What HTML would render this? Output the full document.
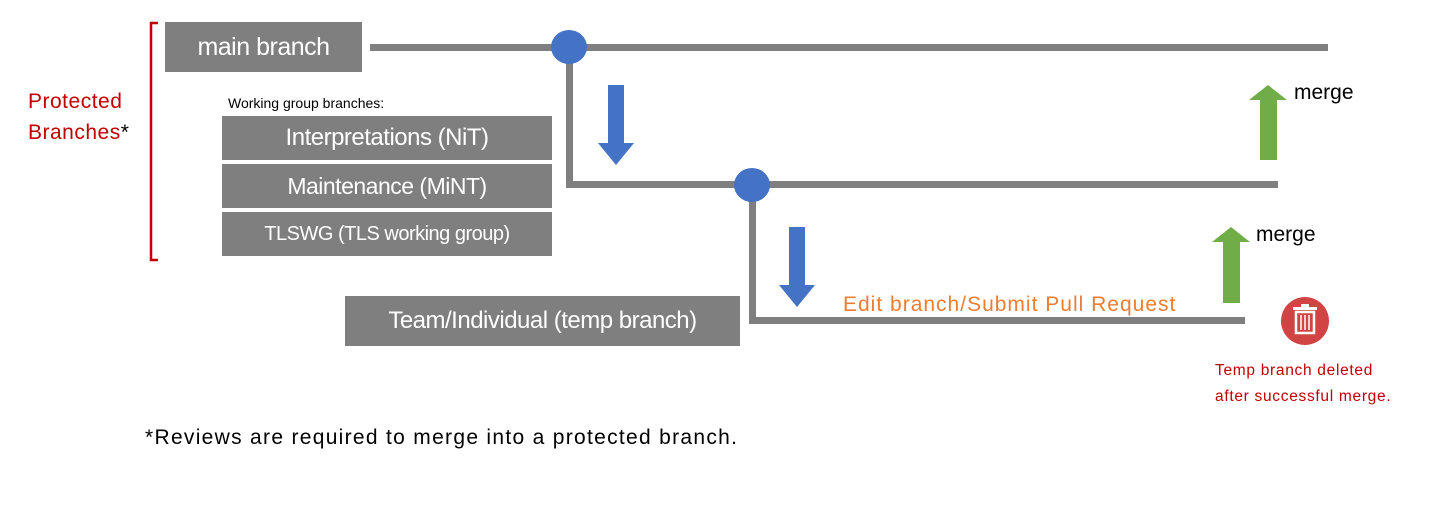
<!DOCTYPE html>
<html><head><meta charset="utf-8"><style>
body{margin:0;width:1430px;height:516px;background:#fff;position:relative;overflow:hidden;font-family:"Liberation Sans",sans-serif}
.b{position:absolute;background:#7f7f7f;color:#fff;display:flex;align-items:center;justify-content:center;white-space:nowrap;letter-spacing:-0.5px}
.t{position:absolute;white-space:nowrap}
</style></head><body>
<svg width="1430" height="516" style="position:absolute;left:0;top:0">
<g fill="#7f7f7f">
<rect x="370" y="44" width="958" height="7"/>
<rect x="566" y="47" width="7" height="141"/>
<rect x="566" y="181" width="712" height="7"/>
<rect x="749" y="185" width="7" height="139"/>
<rect x="749" y="317" width="496" height="7"/>
</g>
<ellipse cx="569" cy="47" rx="18" ry="17" fill="#4472c4"/>
<ellipse cx="752" cy="185" rx="18" ry="17" fill="#4472c4"/>
<polygon points="608,85 624,85 624,143 634,143 616,165 598,143 608,143" fill="#4472c4"/>
<polygon points="789,227 805,227 805,285 815,285 797,307 779,285 789,285" fill="#4472c4"/>
<polygon points="1260,160 1277,160 1277,100 1287,100 1268,85 1249,100 1260,100" fill="#70ad47"/>
<polygon points="1223,303 1240,303 1240,242 1250,242 1231,227 1212,242 1223,242" fill="#70ad47"/>
<circle cx="1305" cy="321" r="24" fill="#d04444"/>
<rect x="1296" y="312" width="18" height="21" fill="none" stroke="#fff" stroke-width="2.5"/>
<rect x="1293" y="307" width="24" height="3" fill="#fff"/>
<rect x="1301" y="304" width="8" height="3" fill="#fff"/>
<g stroke="#fff" stroke-width="1.5"><line x1="1301" y1="315" x2="1301" y2="330"/><line x1="1305" y1="315" x2="1305" y2="330"/><line x1="1309" y1="315" x2="1309" y2="330"/></g>
<path d="M158,23 H151 V260 H158" fill="none" stroke="#c00000" stroke-width="2.5"/>
</svg>
<div class="b" style="left:165px;top:22px;width:197px;height:50px;font-size:25px">main branch</div>
<div class="b" style="left:222px;top:116px;width:330px;height:44px;font-size:24px">Interpretations (NiT)</div>
<div class="b" style="left:222px;top:164px;width:330px;height:44px;font-size:23px">Maintenance (MiNT)</div>
<div class="b" style="left:222px;top:212px;width:330px;height:44px;font-size:20px">TLSWG (TLS working group)</div>
<div class="b" style="left:345px;top:296px;width:395px;height:50px;font-size:24px">Team/Individual (temp branch)</div>
<div class="t" style="left:28px;top:86px;font-size:21px;color:#c00000;line-height:31px;letter-spacing:0.5px">Protected<br>Branches<span style="color:#000">*</span></div>
<div class="t" style="left:228px;top:95px;font-size:14px">Working group branches:</div>
<div class="t" style="left:843px;top:293px;font-size:21px;color:#ed7d31;letter-spacing:1px">Edit branch/Submit Pull Request</div>
<div class="t" style="left:1294px;top:81px;font-size:21px">merge</div>
<div class="t" style="left:1256px;top:223px;font-size:21px">merge</div>
<div class="t" style="left:1215px;top:358px;font-size:15.5px;color:#c00000;line-height:26px;letter-spacing:0.7px">Temp branch deleted<br>after successful merge.</div>
<div class="t" style="left:145px;top:426px;font-size:21px;letter-spacing:1.3px">*Reviews are required to merge into a protected branch.</div>
</body></html>
